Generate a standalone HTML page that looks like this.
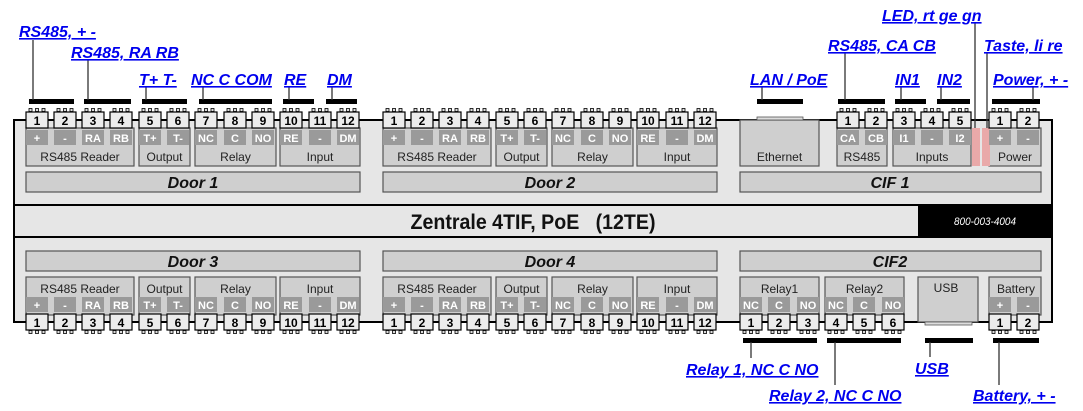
<!DOCTYPE html>
<html><head><meta charset="utf-8"><style>
html,body{margin:0;padding:0;background:#fff;}
svg{display:block;}
.lk{font-family:"Liberation Sans",sans-serif;font-weight:bold;font-style:italic;font-size:16px;fill:#0000ee;text-decoration:underline;}
.n{font-family:"Liberation Sans",sans-serif;font-weight:bold;font-size:12px;fill:#000;text-anchor:middle;}
.l{font-family:"Liberation Sans",sans-serif;font-weight:bold;font-size:11px;fill:#fff;text-anchor:middle;}
.g{font-family:"Liberation Sans",sans-serif;font-size:12px;fill:#222;text-anchor:middle;}
.d{font-family:"Liberation Sans",sans-serif;font-weight:bold;font-style:italic;font-size:16px;fill:#111;text-anchor:middle;}
</style></head><body>
<svg width="1083" height="411" viewBox="0 0 1083 411" xmlns="http://www.w3.org/2000/svg">
<defs>
<g id="tt"><rect x="3" y="-3.5" width="3" height="3" fill="#ddd" stroke="#000" stroke-width="0.8"/><rect x="9.5" y="-3.5" width="3" height="3" fill="#ddd" stroke="#000" stroke-width="0.8"/><rect x="16" y="-3.5" width="3" height="3" fill="#ddd" stroke="#000" stroke-width="0.8"/><rect x="0" y="0" width="22" height="16" fill="#ececec" stroke="#000" stroke-width="1.2"/></g>
<g id="tb"><rect x="3" y="16.5" width="3" height="3" fill="#ddd" stroke="#000" stroke-width="0.8"/><rect x="9.5" y="16.5" width="3" height="3" fill="#ddd" stroke="#000" stroke-width="0.8"/><rect x="16" y="16.5" width="3" height="3" fill="#ddd" stroke="#000" stroke-width="0.8"/><rect x="0" y="0" width="22" height="16" fill="#ececec" stroke="#000" stroke-width="1.2"/></g>
<rect id="lb" width="22" height="15" fill="#9a9a9a"/>
</defs>

<rect x="14" y="120" width="1038" height="202" fill="#e6e6e6" stroke="#000" stroke-width="2"/>
<line x1="14" y1="205" x2="1052" y2="205" stroke="#000" stroke-width="2"/>
<line x1="14" y1="237" x2="1052" y2="237" stroke="#000" stroke-width="2"/>
<rect x="918" y="205" width="134" height="32" fill="#000"/>
<text x="985" y="225" font-family="Liberation Sans,sans-serif" font-style="italic" font-size="11" fill="#fff" text-anchor="middle" textLength="62" lengthAdjust="spacingAndGlyphs">800-003-4004</text>
<text x="533" y="229" font-family="Liberation Sans,sans-serif" font-weight="bold" font-size="21" fill="#111" text-anchor="middle" textLength="245" lengthAdjust="spacingAndGlyphs" xml:space="preserve">Zentrale 4TIF, PoE   (12TE)</text>

<g id="door1">
<g fill="#cfcfcf" stroke="#555" stroke-width="1.2">
<rect x="26" y="128" width="108" height="38"/><rect x="139" y="128" width="51" height="38"/><rect x="195" y="128" width="81" height="38"/><rect x="280" y="128" width="80" height="38"/>
<rect x="26" y="172" width="334" height="20"/>
</g>
<use href="#lb" x="26" y="130"/><use href="#lb" x="54" y="130"/><use href="#lb" x="82" y="130"/><use href="#lb" x="110" y="130"/><use href="#lb" x="139" y="130"/><use href="#lb" x="167" y="130"/><use href="#lb" x="195" y="130"/><use href="#lb" x="224" y="130"/><use href="#lb" x="252" y="130"/><use href="#lb" x="280" y="130"/><use href="#lb" x="309" y="130"/><use href="#lb" x="337" y="130"/>
<use href="#tt" x="26" y="112"/><use href="#tt" x="54" y="112"/><use href="#tt" x="82" y="112"/><use href="#tt" x="110" y="112"/><use href="#tt" x="139" y="112"/><use href="#tt" x="167" y="112"/><use href="#tt" x="195" y="112"/><use href="#tt" x="224" y="112"/><use href="#tt" x="252" y="112"/><use href="#tt" x="280" y="112"/><use href="#tt" x="309" y="112"/><use href="#tt" x="337" y="112"/>
</g>
<use href="#door1" x="357" y="0"/>
<g class="n"><text x="37" y="125">1</text><text x="65" y="125">2</text><text x="93" y="125">3</text><text x="121" y="125">4</text><text x="150" y="125">5</text><text x="178" y="125">6</text><text x="206" y="125">7</text><text x="235" y="125">8</text><text x="263" y="125">9</text><text x="291" y="125">10</text><text x="320" y="125">11</text><text x="348" y="125">12</text>
<text x="394" y="125">1</text><text x="422" y="125">2</text><text x="450" y="125">3</text><text x="478" y="125">4</text><text x="507" y="125">5</text><text x="535" y="125">6</text><text x="563" y="125">7</text><text x="592" y="125">8</text><text x="620" y="125">9</text><text x="648" y="125">10</text><text x="677" y="125">11</text><text x="705" y="125">12</text></g>
<g class="l"><text x="37" y="142">+</text><text x="65" y="142">-</text><text x="93" y="142">RA</text><text x="121" y="142">RB</text><text x="150" y="142">T+</text><text x="178" y="142">T-</text><text x="206" y="142">NC</text><text x="235" y="142">C</text><text x="263" y="142">NO</text><text x="291" y="142">RE</text><text x="320" y="142">-</text><text x="348" y="142">DM</text>
<text x="394" y="142">+</text><text x="422" y="142">-</text><text x="450" y="142">RA</text><text x="478" y="142">RB</text><text x="507" y="142">T+</text><text x="535" y="142">T-</text><text x="563" y="142">NC</text><text x="592" y="142">C</text><text x="620" y="142">NO</text><text x="648" y="142">RE</text><text x="677" y="142">-</text><text x="705" y="142">DM</text></g>
<g class="g"><text x="80" y="161">RS485 Reader</text><text x="164.5" y="161">Output</text><text x="235.5" y="161">Relay</text><text x="320" y="161">Input</text>
<text x="437" y="161">RS485 Reader</text><text x="521.5" y="161">Output</text><text x="592.5" y="161">Relay</text><text x="677" y="161">Input</text></g>
<text class="d" x="193" y="188">Door 1</text><text class="d" x="550" y="188">Door 2</text>

<g id="door3">
<g fill="#cfcfcf" stroke="#555" stroke-width="1.2">
<rect x="26" y="277" width="108" height="38"/><rect x="139" y="277" width="51" height="38"/><rect x="195" y="277" width="81" height="38"/><rect x="280" y="277" width="80" height="38"/>
<rect x="26" y="251" width="334" height="20"/>
</g>
<use href="#lb" x="26" y="297"/><use href="#lb" x="54" y="297"/><use href="#lb" x="82" y="297"/><use href="#lb" x="110" y="297"/><use href="#lb" x="139" y="297"/><use href="#lb" x="167" y="297"/><use href="#lb" x="195" y="297"/><use href="#lb" x="224" y="297"/><use href="#lb" x="252" y="297"/><use href="#lb" x="280" y="297"/><use href="#lb" x="309" y="297"/><use href="#lb" x="337" y="297"/>
<use href="#tb" x="26" y="314"/><use href="#tb" x="54" y="314"/><use href="#tb" x="82" y="314"/><use href="#tb" x="110" y="314"/><use href="#tb" x="139" y="314"/><use href="#tb" x="167" y="314"/><use href="#tb" x="195" y="314"/><use href="#tb" x="224" y="314"/><use href="#tb" x="252" y="314"/><use href="#tb" x="280" y="314"/><use href="#tb" x="309" y="314"/><use href="#tb" x="337" y="314"/>
</g>
<use href="#door3" x="357" y="0"/>
<g class="n"><text x="37" y="327">1</text><text x="65" y="327">2</text><text x="93" y="327">3</text><text x="121" y="327">4</text><text x="150" y="327">5</text><text x="178" y="327">6</text><text x="206" y="327">7</text><text x="235" y="327">8</text><text x="263" y="327">9</text><text x="291" y="327">10</text><text x="320" y="327">11</text><text x="348" y="327">12</text>
<text x="394" y="327">1</text><text x="422" y="327">2</text><text x="450" y="327">3</text><text x="478" y="327">4</text><text x="507" y="327">5</text><text x="535" y="327">6</text><text x="563" y="327">7</text><text x="592" y="327">8</text><text x="620" y="327">9</text><text x="648" y="327">10</text><text x="677" y="327">11</text><text x="705" y="327">12</text></g>
<g class="l"><text x="37" y="309">+</text><text x="65" y="309">-</text><text x="93" y="309">RA</text><text x="121" y="309">RB</text><text x="150" y="309">T+</text><text x="178" y="309">T-</text><text x="206" y="309">NC</text><text x="235" y="309">C</text><text x="263" y="309">NO</text><text x="291" y="309">RE</text><text x="320" y="309">-</text><text x="348" y="309">DM</text>
<text x="394" y="309">+</text><text x="422" y="309">-</text><text x="450" y="309">RA</text><text x="478" y="309">RB</text><text x="507" y="309">T+</text><text x="535" y="309">T-</text><text x="563" y="309">NC</text><text x="592" y="309">C</text><text x="620" y="309">NO</text><text x="648" y="309">RE</text><text x="677" y="309">-</text><text x="705" y="309">DM</text></g>
<g class="g"><text x="80" y="293">RS485 Reader</text><text x="164.5" y="293">Output</text><text x="235.5" y="293">Relay</text><text x="320" y="293">Input</text>
<text x="437" y="293">RS485 Reader</text><text x="521.5" y="293">Output</text><text x="592.5" y="293">Relay</text><text x="677" y="293">Input</text></g>
<text class="d" x="193" y="267">Door 3</text><text class="d" x="550" y="267">Door 4</text>

<g fill="#cfcfcf" stroke="#555" stroke-width="1.2">
<rect x="740" y="120" width="79" height="46"/>
<rect x="837" y="128" width="50" height="38"/><rect x="893" y="128" width="78" height="38"/><rect x="989" y="128" width="52" height="38"/>
<rect x="740" y="172" width="301" height="20"/>
<rect x="740" y="251" width="301" height="20"/>
<rect x="740" y="277" width="79" height="38"/><rect x="825" y="277" width="79" height="38"/><rect x="918" y="277" width="60" height="45"/><rect x="989" y="277" width="52" height="38"/>
</g>
<rect x="757" y="117" width="46" height="3" fill="#ddd" stroke="#555" stroke-width="0.8"/>
<rect x="925" y="322" width="47" height="3" fill="#ddd" stroke="#555" stroke-width="0.8"/>
<rect x="972" y="128" width="8" height="38" fill="#e9a9a9"/><rect x="982" y="128" width="8" height="38" fill="#e9a9a9"/>
<use href="#lb" x="837" y="130"/><use href="#lb" x="865" y="130"/><use href="#lb" x="893" y="130"/><use href="#lb" x="921" y="130"/><use href="#lb" x="949" y="130"/><use href="#lb" x="989" y="130"/><use href="#lb" x="1017" y="130"/>
<use href="#tt" x="837" y="112"/><use href="#tt" x="865" y="112"/><use href="#tt" x="893" y="112"/><use href="#tt" x="921" y="112"/><use href="#tt" x="949" y="112"/><use href="#tt" x="989" y="112"/><use href="#tt" x="1017" y="112"/>
<g class="n"><text x="848" y="125">1</text><text x="876" y="125">2</text><text x="904" y="125">3</text><text x="932" y="125">4</text><text x="960" y="125">5</text><text x="1000" y="125">1</text><text x="1028" y="125">2</text></g>
<g class="l"><text x="848" y="142">CA</text><text x="876" y="142">CB</text><text x="904" y="142">I1</text><text x="932" y="142">-</text><text x="960" y="142">I2</text><text x="1000" y="142">+</text><text x="1028" y="142">-</text></g>
<g class="g"><text x="779.5" y="161">Ethernet</text><text x="862" y="161">RS485</text><text x="932" y="161">Inputs</text><text x="1015" y="161">Power</text>
<text x="779.5" y="293">Relay1</text><text x="864.5" y="293">Relay2</text><text x="946" y="292">USB</text><text x="1016" y="293">Battery</text></g>
<text class="d" x="890" y="188">CIF 1</text><text class="d" x="890" y="267">CIF2</text>

<use href="#lb" x="740" y="297"/><use href="#lb" x="768" y="297"/><use href="#lb" x="797" y="297"/><use href="#lb" x="825" y="297"/><use href="#lb" x="853" y="297"/><use href="#lb" x="882" y="297"/><use href="#lb" x="989" y="297"/><use href="#lb" x="1017" y="297"/>
<use href="#tb" x="740" y="314"/><use href="#tb" x="768" y="314"/><use href="#tb" x="797" y="314"/><use href="#tb" x="825" y="314"/><use href="#tb" x="853" y="314"/><use href="#tb" x="882" y="314"/><use href="#tb" x="989" y="314"/><use href="#tb" x="1017" y="314"/>
<g class="n"><text x="751" y="327">1</text><text x="779" y="327">2</text><text x="808" y="327">3</text><text x="836" y="327">4</text><text x="864" y="327">5</text><text x="893" y="327">6</text><text x="1000" y="327">1</text><text x="1028" y="327">2</text></g>
<g class="l"><text x="751" y="309">NC</text><text x="779" y="309">C</text><text x="808" y="309">NO</text><text x="836" y="309">NC</text><text x="864" y="309">C</text><text x="893" y="309">NO</text><text x="1000" y="309">+</text><text x="1028" y="309">-</text></g>

<g fill="#000">
<rect x="29" y="99" width="45" height="5"/><rect x="84" y="99" width="47" height="5"/><rect x="142" y="99" width="45" height="5"/><rect x="199" y="99" width="73" height="5"/><rect x="283" y="99" width="31" height="5"/><rect x="326" y="99" width="31" height="5"/>
<rect x="757" y="99" width="46" height="5"/><rect x="838" y="99" width="47" height="5"/><rect x="895" y="99" width="31" height="5"/><rect x="937" y="99" width="33" height="5"/><rect x="992" y="99" width="48" height="5"/>
<rect x="743" y="338" width="74" height="5"/><rect x="827" y="338" width="74" height="5"/><rect x="925" y="338" width="48" height="5"/><rect x="993" y="338" width="46" height="5"/>
</g>
<g stroke="#333" stroke-width="1.3">
<line x1="33" y1="40" x2="33" y2="100"/><line x1="88" y1="60" x2="88" y2="100"/><line x1="146" y1="87" x2="146" y2="100"/><line x1="203" y1="87" x2="203" y2="100"/><line x1="289" y1="87" x2="289" y2="100"/><line x1="332" y1="87" x2="332" y2="100"/>
<line x1="762" y1="86" x2="762" y2="100"/><line x1="845" y1="53" x2="845" y2="100"/><line x1="901" y1="86" x2="901" y2="100"/><line x1="941" y1="86" x2="941" y2="100"/><line x1="1033" y1="86" x2="1033" y2="100"/>
<line x1="975" y1="22" x2="975" y2="128"/><line x1="987" y1="53" x2="987" y2="128"/>
<line x1="751" y1="342" x2="751" y2="358"/><line x1="835" y1="342" x2="835" y2="385"/><line x1="930" y1="342" x2="930" y2="357"/><line x1="999" y1="342" x2="999" y2="385"/>
</g>

<g class="lk">
<text x="19" y="37">RS485, + -</text>
<text x="71" y="58">RS485, RA RB</text>
<text x="139" y="85">T+ T-</text>
<text x="191" y="85">NC C COM</text>
<text x="284" y="85">RE</text>
<text x="327" y="85">DM</text>
<text x="750" y="85">LAN / PoE</text>
<text x="828" y="51">RS485, CA CB</text>
<text x="895" y="85">IN1</text>
<text x="937" y="85">IN2</text>
<text x="882" y="21">LED, rt ge gn </text>
<text x="984" y="51">Taste, li re</text>
<text x="993" y="85">Power, + -</text>
<text x="686" y="375">Relay 1, NC C NO</text>
<text x="769" y="401">Relay 2, NC C NO</text>
<text x="915" y="374">USB</text>
<text x="973" y="401">Battery, + -</text>
</g>
</svg>
</body></html>
